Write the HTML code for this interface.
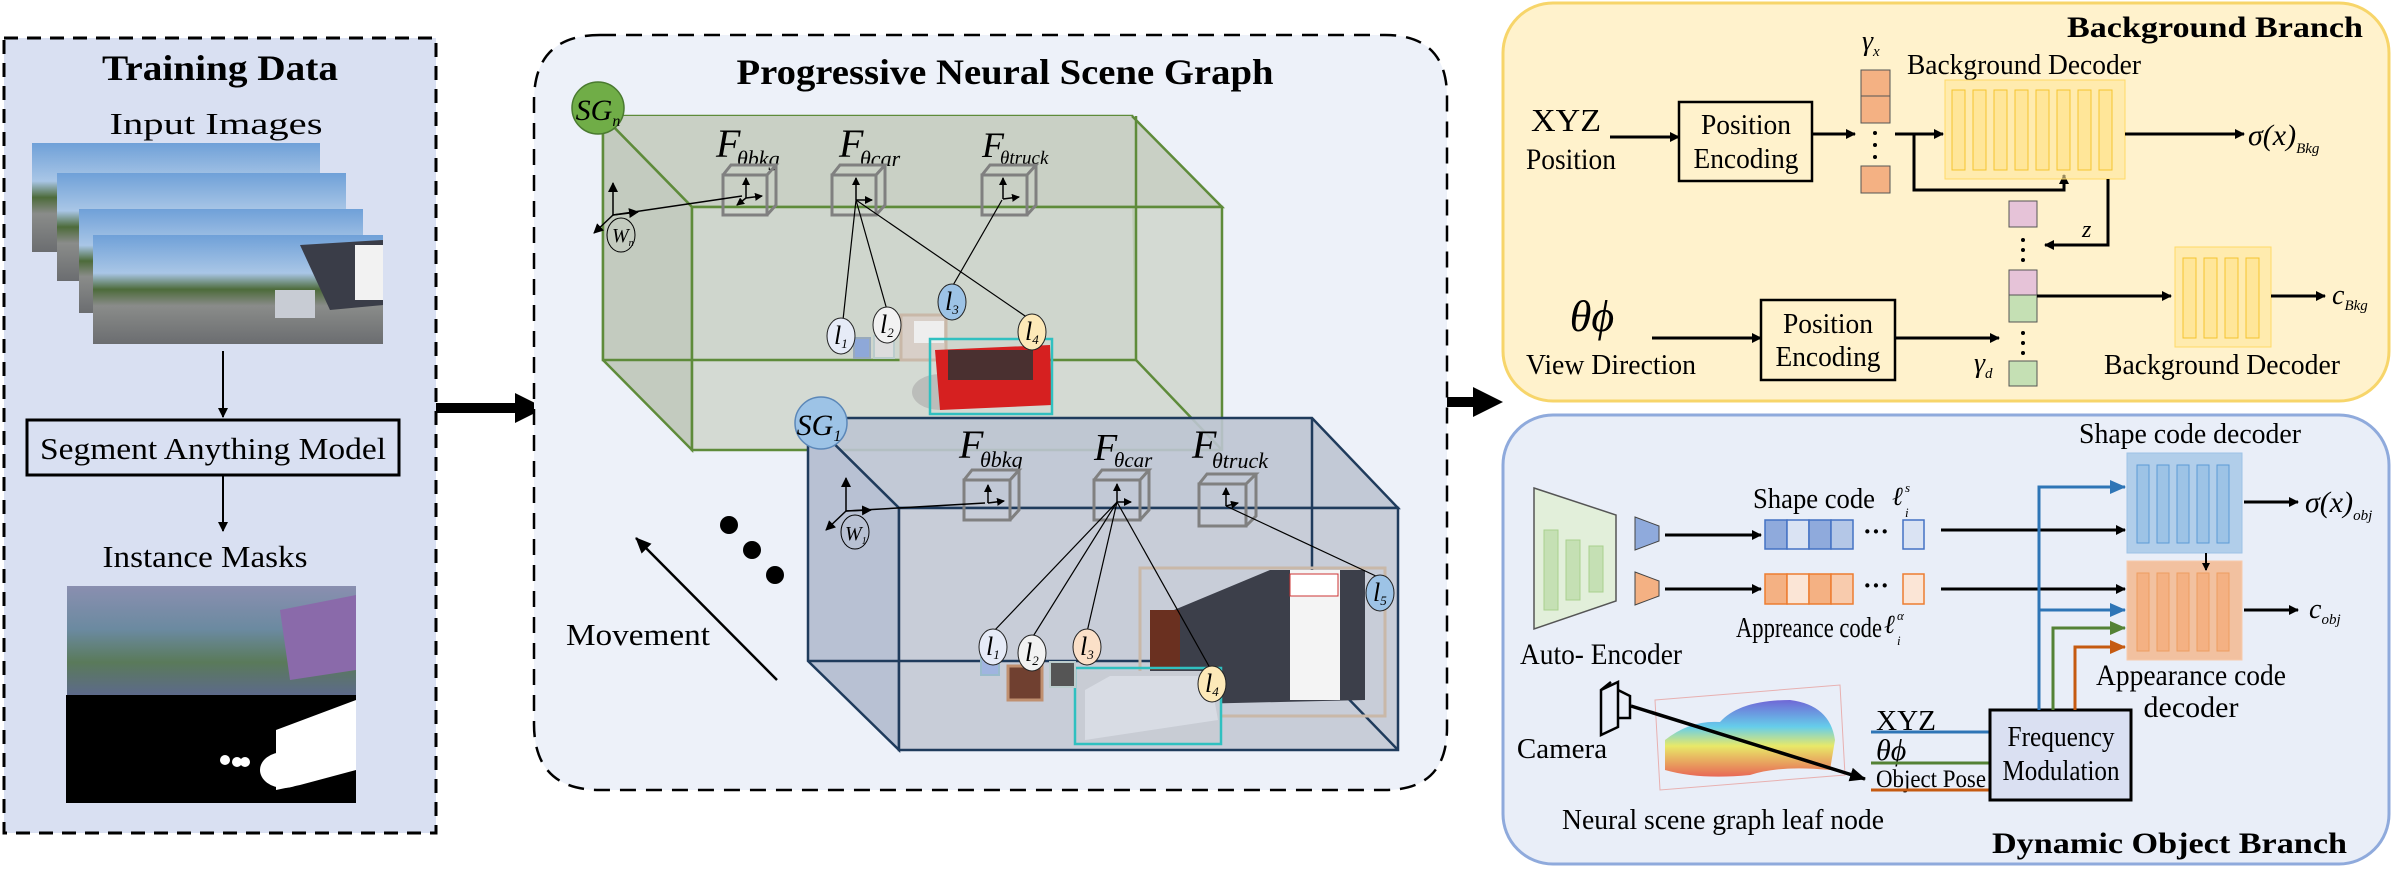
<!DOCTYPE html>
<html><head><meta charset="utf-8"><style>
html,body{margin:0;padding:0;background:#fff;}
svg{display:block;font-family:"Liberation Serif",serif;}
</style></head><body>
<svg width="2392" height="877" viewBox="0 0 2392 877" xmlns="http://www.w3.org/2000/svg">
<defs>
<marker id="ah" markerWidth="10" markerHeight="10" refX="9" refY="5" orient="auto" markerUnits="userSpaceOnUse"><path d="M0,0 L10,5 L0,10 z" fill="#000"/></marker>
<marker id="ahb" markerWidth="16" markerHeight="14" refX="15" refY="7" orient="auto" markerUnits="userSpaceOnUse"><path d="M0,0 L16,7 L0,14 z" fill="#000"/></marker>
<marker id="ahs" markerWidth="8" markerHeight="8" refX="7" refY="4" orient="auto" markerUnits="userSpaceOnUse"><path d="M0,0 L8,4 L0,8 z" fill="#000"/></marker>
<marker id="ahblue" markerWidth="16" markerHeight="14" refX="15" refY="7" orient="auto" markerUnits="userSpaceOnUse"><path d="M0,0 L16,7 L0,14 z" fill="#2e75b6"/></marker>
<marker id="ahgreen" markerWidth="16" markerHeight="14" refX="15" refY="7" orient="auto" markerUnits="userSpaceOnUse"><path d="M0,0 L16,7 L0,14 z" fill="#548235"/></marker>
<marker id="ahor" markerWidth="16" markerHeight="14" refX="15" refY="7" orient="auto" markerUnits="userSpaceOnUse"><path d="M0,0 L16,7 L0,14 z" fill="#c55a11"/></marker>
<linearGradient id="photo" x1="0" y1="0" x2="0" y2="1">
<stop offset="0" stop-color="#6fa0d8"/><stop offset="0.35" stop-color="#a9c6e6"/><stop offset="0.5" stop-color="#4d6b3a"/><stop offset="0.65" stop-color="#8a8c8a"/><stop offset="1" stop-color="#6b6d70"/></linearGradient>
<linearGradient id="seg" x1="0" y1="0" x2="0" y2="1">
<stop offset="0" stop-color="#8a8fb0"/><stop offset="0.4" stop-color="#6b8aa0"/><stop offset="0.7" stop-color="#5a7a5a"/><stop offset="1" stop-color="#5d6a8a"/></linearGradient>
<linearGradient id="pc" x1="0" y1="0" x2="0" y2="1">
<stop offset="0" stop-color="#5a4fd0"/><stop offset="0.35" stop-color="#4fc8e8"/><stop offset="0.6" stop-color="#e8e84f"/><stop offset="1" stop-color="#e8503a"/></linearGradient>
</defs>

<!-- Training data panel -->
<rect x="4" y="38" width="432" height="795" fill="#d9e0f2" stroke="#000" stroke-width="3" stroke-dasharray="14,9"/>
<text x="220" y="80" font-size="36" font-weight="bold" text-anchor="middle" textLength="236" lengthAdjust="spacingAndGlyphs">Training Data</text>
<text x="216" y="134" font-size="31" text-anchor="middle" textLength="213" lengthAdjust="spacingAndGlyphs">Input Images</text>
<rect x="32" y="143" width="288" height="109" fill="url(#photo)"/>
<rect x="57" y="173" width="289" height="108" fill="url(#photo)"/>
<rect x="79" y="209" width="284" height="104" fill="url(#photo)"/>
<rect x="93" y="235" width="290" height="109" fill="url(#photo)"/>
<path d="M300,245 L383,240 L383,305 L330,310 Z" fill="#3a3d48"/>
<rect x="355" y="245" width="28" height="55" fill="#f2f2f2"/>
<rect x="275" y="290" width="40" height="28" fill="#c8ccd4"/>
<line x1="223" y1="351" x2="223" y2="417" stroke="#000" stroke-width="2" marker-end="url(#ah)"/>
<rect x="27" y="420" width="372" height="55" fill="#d9e0f2" stroke="#000" stroke-width="3"/>
<text x="213" y="459" font-size="31" text-anchor="middle" textLength="346" lengthAdjust="spacingAndGlyphs">Segment Anything Model</text>
<line x1="223" y1="475" x2="223" y2="531" stroke="#000" stroke-width="2" marker-end="url(#ah)"/>
<text x="205" y="567" font-size="31" text-anchor="middle" textLength="205" lengthAdjust="spacingAndGlyphs">Instance Masks</text>
<rect x="67" y="586" width="289" height="109" fill="url(#seg)"/>
<path d="M280,610 L356,595 L356,670 L290,680 Z" fill="#8a6aaa"/>
<rect x="66" y="695" width="290" height="108" fill="#000"/>
<path d="M276,730 L356,700 L356,770 L300,785 L276,790 Z" fill="#fff"/>
<ellipse cx="284" cy="770" rx="24" ry="18" fill="#fff"/>
<circle cx="225" cy="760" r="5" fill="#fff"/><circle cx="237" cy="762" r="5" fill="#fff"/><circle cx="245" cy="762" r="5" fill="#fff"/>

<!-- big arrows -->
<line x1="436" y1="408" x2="520" y2="408" stroke="#000" stroke-width="10"/>
<path d="M515,393 L545,408 L515,423 Z" fill="#000"/>
<line x1="1395" y1="402" x2="1478" y2="402" stroke="#000" stroke-width="10"/>
<path d="M1473,387 L1503,402 L1473,417 Z" fill="#000"/>

<!-- middle panel -->
<path d="M600,35 L1385,35 Q1447,35 1447,97 L1447,728 Q1447,790 1385,790 L600,790 Q534,790 534,724 L534,101 Q534,35 600,35 Z" fill="#edf1f9" stroke="#000" stroke-width="2.5" stroke-dasharray="16,10"/>
<text x="1005" y="84" font-size="36" font-weight="bold" text-anchor="middle" textLength="537" lengthAdjust="spacingAndGlyphs">Progressive Neural Scene Graph</text>

<!-- green box -->
<g stroke="#5e8b3a" stroke-width="2.5" fill="none">
<path d="M603,116 L1132,116 L1136,360 L603,360 Z" fill="#cfd6cc"/>
<path d="M603,116 L692,207 L1222,207 L1132,116" fill="#c9d0c5"/>
<path d="M603,116 L603,360 L692,450 L692,207 Z" fill="#c3cbbf"/>
<rect x="692" y="207" width="530" height="243" fill="#cfd6cc" fill-opacity="0.85"/>
<line x1="603" y1="360" x2="1136" y2="360"/>
<line x1="1136" y1="116" x2="1136" y2="360"/>
<line x1="1136" y1="360" x2="1222" y2="450"/>
</g>

<!-- blue box -->
<g stroke="#1f3b5c" stroke-width="2.5">
<path d="M808,418 L1312,418 L1398,508 L899,508 Z" fill="#bcc4d2" fill-opacity="0.9"/>
<path d="M808,418 L899,508 L899,750 L808,661 Z" fill="#b8c1d3"/>
<rect x="899" y="508" width="499" height="242" fill="#c8cdd8"/>
<line x1="808" y1="661" x2="1312" y2="661" fill="none"/>
<line x1="1312" y1="418" x2="1312" y2="661" fill="none"/>
<line x1="1312" y1="661" x2="1398" y2="750" fill="none"/>
</g>

<!-- SG circles -->
<circle cx="598" cy="108" r="26" fill="#70ad47" stroke="#4a7a30" stroke-width="1.5"/>
<text x="598" y="120" font-size="30" font-style="italic" text-anchor="middle">SG<tspan font-size="16" dy="6">n</tspan></text>
<circle cx="821" cy="423" r="26" fill="#9dc3e6" stroke="#5b87b8" stroke-width="1.5"/>
<text x="819" y="435" font-size="30" font-style="italic" text-anchor="middle">SG<tspan font-size="16" dy="6">1</tspan></text>

<!-- F labels -->
<g font-style="italic">
<text x="716" y="157" font-size="40">F</text><text x="737" y="166" font-size="22">θbkg</text>
<text x="839" y="157" font-size="40">F</text><text x="860" y="166" font-size="22">θcar</text>
<text x="982" y="157" font-size="36">F</text><text x="1000" y="164" font-size="19">θtruck</text>
<text x="959" y="458" font-size="40">F</text><text x="980" y="467" font-size="22">θbkg</text>
<text x="1094" y="460" font-size="38">F</text><text x="1114" y="467" font-size="21">θcar</text>
<text x="1192" y="458" font-size="40">F</text><text x="1212" y="468" font-size="22">θtruck</text>
</g>

<!-- cubes -->
<g stroke="#808080" stroke-width="3" fill="none">
<path d="M723,175 L767,175 L767,215 L723,215 Z M723,175 L731,165 L776,165 L767,175 M776,165 L776,205 L767,215"/>
<path d="M832,175 L876,175 L876,215 L832,215 Z M832,175 L840,165 L885,165 L876,175 M885,165 L885,205 L876,215"/>
<path d="M982,175 L1027,175 L1027,215 L982,215 Z M982,175 L990,165 L1036,165 L1027,175 M1036,165 L1036,205 L1027,215"/>
<path d="M964,480 L1010,480 L1010,520 L964,520 Z M964,480 L972,470 L1019,470 L1010,480 M1019,470 L1019,510 L1010,520"/>
<path d="M1094,480 L1140,480 L1140,520 L1094,520 Z M1094,480 L1102,470 L1149,470 L1140,480 M1149,470 L1149,510 L1140,520"/>
<path d="M1199,484 L1246,484 L1246,526 L1199,526 Z M1199,484 L1207,474 L1256,474 L1246,484 M1256,474 L1256,516 L1246,526"/>
</g>
<g stroke="#000" stroke-width="1.5" fill="none">
<path d="M746,198 L746,178" marker-end="url(#ahs)"/><path d="M746,198 L762,196" marker-end="url(#ahs)"/><path d="M746,198 L737,205" marker-end="url(#ahs)"/>
<path d="M856,200 L856,178" marker-end="url(#ahs)"/><path d="M856,200 L872,200" marker-end="url(#ahs)"/>
<path d="M1003,199 L1003,178" marker-end="url(#ahs)"/><path d="M1003,199 L1019,197" marker-end="url(#ahs)"/>
<path d="M988,503 L988,485" marker-end="url(#ahs)"/><path d="M988,503 L1004,501" marker-end="url(#ahs)"/>
<path d="M1117,502 L1117,484" marker-end="url(#ahs)"/><path d="M1117,502 L1131,502" marker-end="url(#ahs)"/>
<path d="M1226,506 L1226,488" marker-end="url(#ahs)"/><path d="M1226,506 L1238,503" marker-end="url(#ahs)"/>
<path d="M613,215 L613,183" marker-end="url(#ah)"/><path d="M613,215 L638,212" marker-end="url(#ah)"/><path d="M613,215 L594,233" marker-end="url(#ah)"/>
<path d="M613,215 L742,196"/>
<path d="M846,511 L846,478" marker-end="url(#ah)"/><path d="M846,511 L871,510" marker-end="url(#ah)"/><path d="M846,511 L826,530" marker-end="url(#ah)"/>
<path d="M846,511 L985,503"/>
</g>
<ellipse cx="621" cy="235" rx="14" ry="17" fill="none" stroke="#000" stroke-width="1"/>
<text x="612" y="242" font-size="20" font-style="italic">W<tspan font-size="10" dy="4">n</tspan></text>
<ellipse cx="855" cy="532" rx="14" ry="17" fill="none" stroke="#000" stroke-width="1"/>
<text x="845" y="540" font-size="20" font-style="italic">W<tspan font-size="10" dy="4">1</tspan></text>

<!-- scene photos upper -->
<rect x="901" y="315" width="45" height="45" fill="#d8cfc8" stroke="#c9b8a8" stroke-width="3"/>
<rect x="914" y="321" width="30" height="22" fill="#eee"/>
<rect x="854" y="338" width="16" height="20" fill="#8ea8d8" stroke="#9ab" stroke-width="2"/>
<rect x="874" y="336" width="20" height="22" fill="#ddd" stroke="#bcc" stroke-width="2"/>
<ellipse cx="940" cy="392" rx="28" ry="18" fill="#aaa" opacity="0.6"/>
<path d="M935,350 L1050,345 L1052,405 L940,410 Z" fill="#d62020"/>
<rect x="948" y="350" width="85" height="30" fill="#4a3030"/>
<rect x="930" y="339" width="122" height="75" fill="none" stroke="#30c0c0" stroke-width="2.5"/>

<!-- lower photos -->
<rect x="1140" y="568" width="245" height="148" fill="none" stroke="#c9b8a8" stroke-width="3"/>
<path d="M1150,620 L1270,570 L1365,570 L1365,700 L1150,705 Z" fill="#3c3f4a"/>
<rect x="1290" y="570" width="50" height="130" fill="#f4f4f4"/>
<rect x="1290" y="574" width="48" height="22" fill="#fff" stroke="#c33" stroke-width="1"/>
<rect x="1150" y="610" width="30" height="60" fill="#6a3020"/>
<rect x="1075" y="671" width="145" height="73" fill="#c8ccd4"/>
<path d="M1085,690 L1110,676 L1210,676 L1218,720 L1085,740 Z" fill="#d8dce4"/>
<rect x="1075" y="668" width="146" height="76" fill="none" stroke="#30c0c0" stroke-width="2.5"/>
<rect x="981" y="658" width="18" height="17" fill="#a0b4e0" stroke="#9bc" stroke-width="2"/>
<rect x="1008" y="666" width="34" height="34" fill="#704030" stroke="#c09070" stroke-width="3"/>
<rect x="1050" y="662" width="25" height="25" fill="#555" stroke="#bcc" stroke-width="2"/>

<g stroke="#000" stroke-width="1.2">
<line x1="856" y1="200" x2="843" y2="320"/><line x1="856" y1="200" x2="887" y2="310"/><line x1="856" y1="200" x2="1028" y2="318"/><line x1="1002" y1="200" x2="952" y2="287"/>
<line x1="1117" y1="502" x2="993" y2="632"/><line x1="1117" y1="502" x2="1032" y2="638"/><line x1="1117" y1="502" x2="1087" y2="632"/><line x1="1117" y1="502" x2="1210" y2="668"/><line x1="1226" y1="506" x2="1378" y2="577"/>
</g>
<g stroke="#222" stroke-width="1">
<ellipse cx="841" cy="336" rx="14" ry="18" fill="#e6ebf7"/>
<ellipse cx="887" cy="325" rx="14" ry="18" fill="#f2f2f2"/>
<ellipse cx="952" cy="302" rx="14" ry="18" fill="#9dc3e6"/>
<ellipse cx="1032" cy="332" rx="14" ry="18" fill="#fde9b8"/>
<ellipse cx="993" cy="647" rx="14" ry="18" fill="#e6ebf7"/>
<ellipse cx="1032" cy="653" rx="14" ry="18" fill="#f2f2f2"/>
<ellipse cx="1087" cy="647" rx="14" ry="18" fill="#fbe0c8"/>
<ellipse cx="1212" cy="684" rx="14" ry="18" fill="#fde9b8"/>
<ellipse cx="1380" cy="593" rx="14" ry="18" fill="#9dc3e6"/>
</g>
<g font-style="italic" font-size="26">
<text x="834" y="344">l<tspan font-size="13" dy="4">1</tspan></text>
<text x="880" y="333">l<tspan font-size="13" dy="4">2</tspan></text>
<text x="945" y="310">l<tspan font-size="13" dy="4">3</tspan></text>
<text x="1025" y="340">l<tspan font-size="13" dy="4">4</tspan></text>
<text x="986" y="655">l<tspan font-size="13" dy="4">1</tspan></text>
<text x="1025" y="661">l<tspan font-size="13" dy="4">2</tspan></text>
<text x="1080" y="655">l<tspan font-size="13" dy="4">3</tspan></text>
<text x="1205" y="692">l<tspan font-size="13" dy="4">4</tspan></text>
<text x="1373" y="601">l<tspan font-size="13" dy="4">5</tspan></text>
</g>

<circle cx="729" cy="525" r="9" fill="#000"/><circle cx="752" cy="550" r="9" fill="#000"/><circle cx="775" cy="575" r="9" fill="#000"/>
<line x1="777" y1="680" x2="636" y2="538" stroke="#000" stroke-width="2.5" marker-end="url(#ahb)"/>
<text x="566" y="645" font-size="31" textLength="144" lengthAdjust="spacingAndGlyphs">Movement</text>

<!-- Background branch -->
<rect x="1503" y="3" width="886" height="398" rx="50" fill="#fff2cc" stroke="#f7d56a" stroke-width="3"/>
<text x="2363" y="37" font-size="30" font-weight="bold" text-anchor="end" textLength="296" lengthAdjust="spacingAndGlyphs">Background  Branch</text>
<text x="1862" y="50" font-size="28" font-style="italic">γ<tspan font-size="15" dy="6">x</tspan></text>
<text x="1907" y="74" font-size="29" textLength="234" lengthAdjust="spacingAndGlyphs">Background Decoder</text>
<text x="1566" y="131" font-size="32" text-anchor="middle" textLength="70" lengthAdjust="spacingAndGlyphs">XYZ</text>
<text x="1571" y="169" font-size="30" text-anchor="middle" textLength="90" lengthAdjust="spacingAndGlyphs">Position</text>
<line x1="1610" y1="137" x2="1679" y2="137" stroke="#000" stroke-width="3" marker-end="url(#ah)"/>
<rect x="1679" y="102" width="133" height="79" fill="#fff2cc" stroke="#000" stroke-width="2.5"/>
<text x="1746" y="134" font-size="28" text-anchor="middle" textLength="90" lengthAdjust="spacingAndGlyphs">Position</text>
<text x="1746" y="168" font-size="28" text-anchor="middle" textLength="105" lengthAdjust="spacingAndGlyphs">Encoding</text>
<line x1="1812" y1="134" x2="1855" y2="134" stroke="#000" stroke-width="3" marker-end="url(#ah)"/>
<rect x="1861" y="70" width="29" height="26" fill="#f4b183" stroke="#555"/>
<rect x="1861" y="96" width="29" height="27" fill="#f4b183" stroke="#555"/>
<rect x="1861" y="166" width="29" height="27" fill="#f4b183" stroke="#555"/>
<circle cx="1875" cy="133" r="2" fill="#000"/><circle cx="1875" cy="145" r="2" fill="#000"/><circle cx="1875" cy="157" r="2" fill="#000"/>
<path d="M1895,134 L1943,134" stroke="#000" stroke-width="3" marker-end="url(#ah)"/>
<path d="M1914,134 L1914,190 L2064,190 L2064,175" stroke="#000" stroke-width="3" fill="none" marker-end="url(#ah)"/>
<rect x="1945" y="80" width="180" height="99" fill="#ffe699" fill-opacity="0.6" stroke="#ffd966"/>
<g fill="#ffe699" stroke="#f4c430" stroke-width="1">
<rect x="1952" y="90" width="13" height="80"/><rect x="1973" y="90" width="13" height="80"/><rect x="1994" y="90" width="13" height="80"/><rect x="2015" y="90" width="13" height="80"/><rect x="2036" y="90" width="13" height="80"/><rect x="2057" y="90" width="13" height="80"/><rect x="2078" y="90" width="13" height="80"/><rect x="2099" y="90" width="13" height="80"/>
</g>
<line x1="2125" y1="134" x2="2244" y2="134" stroke="#000" stroke-width="3" marker-end="url(#ah)"/>
<text x="2248" y="145" font-size="30" font-style="italic">σ(x)<tspan font-size="15" dy="8">Bkg</tspan></text>
<path d="M2108,179 L2108,245 L2045,245" stroke="#000" stroke-width="3" fill="none" marker-end="url(#ah)"/>
<text x="2082" y="237" font-size="24" font-style="italic">z</text>
<rect x="2009" y="201" width="28" height="26" fill="#e6c3d8" stroke="#555"/>
<circle cx="2023" cy="240" r="2" fill="#000"/><circle cx="2023" cy="250" r="2" fill="#000"/><circle cx="2023" cy="260" r="2" fill="#000"/>
<rect x="2009" y="270" width="28" height="25" fill="#e6c3d8" stroke="#555"/>
<rect x="2009" y="295" width="28" height="27" fill="#c5e0b4" stroke="#555"/>
<circle cx="2023" cy="333" r="2" fill="#000"/><circle cx="2023" cy="343" r="2" fill="#000"/><circle cx="2023" cy="353" r="2" fill="#000"/>
<rect x="2009" y="361" width="28" height="25" fill="#c5e0b4" stroke="#555"/>
<line x1="2037" y1="296" x2="2171" y2="296" stroke="#000" stroke-width="3" marker-end="url(#ah)"/>
<rect x="2175" y="247" width="96" height="100" fill="#ffe699" fill-opacity="0.6" stroke="#ffd966"/>
<g fill="#ffe699" stroke="#f4c430"><rect x="2183" y="258" width="13" height="80"/><rect x="2204" y="258" width="13" height="80"/><rect x="2225" y="258" width="13" height="80"/><rect x="2246" y="258" width="13" height="80"/></g>
<line x1="2271" y1="296" x2="2325" y2="296" stroke="#000" stroke-width="3" marker-end="url(#ah)"/>
<text x="2332" y="304" font-size="28" font-style="italic">c<tspan font-size="15" dy="6">Bkg</tspan></text>
<text x="1592" y="331" font-size="44" font-style="italic" text-anchor="middle">θϕ</text>
<text x="1611" y="374" font-size="29" text-anchor="middle" textLength="170" lengthAdjust="spacingAndGlyphs">View Direction</text>
<line x1="1652" y1="338" x2="1761" y2="338" stroke="#000" stroke-width="3" marker-end="url(#ah)"/>
<rect x="1761" y="300" width="134" height="80" fill="#fff2cc" stroke="#000" stroke-width="2.5"/>
<text x="1828" y="333" font-size="28" text-anchor="middle" textLength="90" lengthAdjust="spacingAndGlyphs">Position</text>
<text x="1828" y="366" font-size="28" text-anchor="middle" textLength="105" lengthAdjust="spacingAndGlyphs">Encoding</text>
<line x1="1895" y1="338" x2="1999" y2="338" stroke="#000" stroke-width="3" marker-end="url(#ah)"/>
<text x="1974" y="372" font-size="28" font-style="italic">γ<tspan font-size="15" dy="6">d</tspan></text>
<text x="2104" y="374" font-size="29" textLength="236" lengthAdjust="spacingAndGlyphs">Background Decoder</text>

<!-- Dynamic object branch -->
<rect x="1503" y="415" width="886" height="449" rx="50" fill="#e9eef8" stroke="#8faadc" stroke-width="3"/>
<text x="2190" y="443" font-size="29" text-anchor="middle" textLength="222" lengthAdjust="spacingAndGlyphs">Shape code decoder</text>
<path d="M1534,488 L1616,515 L1616,601 L1534,629 Z" fill="#e2efda" stroke="#555" stroke-width="1.5"/>
<rect x="1544" y="530" width="14" height="80" fill="#c5e0b4" stroke="#a9d08e"/><rect x="1566" y="540" width="14" height="60" fill="#c5e0b4" stroke="#a9d08e"/><rect x="1589" y="546" width="14" height="46" fill="#c5e0b4" stroke="#a9d08e"/>
<path d="M1635,517 L1659,526 L1659,541 L1635,550 Z" fill="#8faadc" stroke="#444"/>
<path d="M1635,572 L1659,581 L1659,596 L1635,605 Z" fill="#f4b183" stroke="#444"/>
<line x1="1665" y1="535" x2="1761" y2="535" stroke="#000" stroke-width="3" marker-end="url(#ah)"/>
<line x1="1665" y1="589" x2="1761" y2="589" stroke="#000" stroke-width="3" marker-end="url(#ah)"/>
<text x="1753" y="508" font-size="29" textLength="122" lengthAdjust="spacingAndGlyphs">Shape code</text>
<text x="1892" y="505" font-size="26" font-style="italic">ℓ</text><text x="1905" y="492" font-size="13" font-style="italic">s</text><text x="1905" y="517" font-size="13" font-style="italic">i</text>
<g stroke="#4472c4" stroke-width="1.5"><rect x="1765" y="520" width="22" height="29" fill="#8faadc"/><rect x="1787" y="520" width="22" height="29" fill="#dae3f3"/><rect x="1809" y="520" width="22" height="29" fill="#8faadc"/><rect x="1831" y="520" width="22" height="29" fill="#b4c7e7"/><rect x="1903" y="520" width="21" height="29" fill="#dae3f3"/></g>
<g stroke="#ed7d31" stroke-width="1.5"><rect x="1765" y="574" width="22" height="30" fill="#f4b183"/><rect x="1787" y="574" width="22" height="30" fill="#fbe5d6"/><rect x="1809" y="574" width="22" height="30" fill="#f4b183"/><rect x="1831" y="574" width="22" height="30" fill="#f8cbad"/><rect x="1903" y="574" width="21" height="30" fill="#fbe5d6"/></g>
<text x="1876" y="540" font-size="26" font-weight="bold" text-anchor="middle">···</text>
<text x="1876" y="594" font-size="26" font-weight="bold" text-anchor="middle">···</text>
<text x="1736" y="637" font-size="29" textLength="146" lengthAdjust="spacingAndGlyphs">Appreance code</text>
<text x="1884" y="633" font-size="26" font-style="italic">ℓ</text><text x="1897" y="620" font-size="13" font-style="italic">α</text><text x="1897" y="645" font-size="13" font-style="italic">i</text>
<line x1="1941" y1="530" x2="2125" y2="530" stroke="#000" stroke-width="3" marker-end="url(#ah)"/>
<line x1="1941" y1="589" x2="2125" y2="589" stroke="#000" stroke-width="3" marker-end="url(#ah)"/>
<rect x="2127" y="453" width="115" height="100" fill="#9dc3e6" fill-opacity="0.75" stroke="#9dc3e6"/>
<g fill="#9dc3e6" stroke="#5b9bd5"><rect x="2137" y="465" width="12" height="78"/><rect x="2157" y="465" width="12" height="78"/><rect x="2177" y="465" width="12" height="78"/><rect x="2197" y="465" width="12" height="78"/><rect x="2217" y="465" width="12" height="78"/></g>
<rect x="2127" y="561" width="115" height="99" fill="#f4b183" fill-opacity="0.75" stroke="#f8cbad"/>
<g fill="#f4b183" stroke="#ed9d60"><rect x="2137" y="573" width="12" height="78"/><rect x="2157" y="573" width="12" height="78"/><rect x="2177" y="573" width="12" height="78"/><rect x="2197" y="573" width="12" height="78"/><rect x="2217" y="573" width="12" height="78"/></g>
<line x1="2206" y1="553" x2="2206" y2="570" stroke="#000" stroke-width="2" marker-end="url(#ahs)"/>
<line x1="2244" y1="502" x2="2298" y2="502" stroke="#000" stroke-width="3" marker-end="url(#ah)"/>
<text x="2305" y="512" font-size="30" font-style="italic">σ(x)<tspan font-size="15" dy="8">obj</tspan></text>
<line x1="2244" y1="610" x2="2298" y2="610" stroke="#000" stroke-width="3" marker-end="url(#ah)"/>
<text x="2309" y="618" font-size="28" font-style="italic">c<tspan font-size="15" dy="6">obj</tspan></text>
<text x="1601" y="664" font-size="30" text-anchor="middle" textLength="162" lengthAdjust="spacingAndGlyphs">Auto- Encoder</text>
<text x="2191" y="685" font-size="30" text-anchor="middle" textLength="190" lengthAdjust="spacingAndGlyphs">Appearance code</text>
<text x="2191" y="717" font-size="30" text-anchor="middle">decoder</text>
<path d="M1601,690 L1618,682 L1618,727 L1601,735 Z M1601,690 L1611,682 M1618,690 L1630,696 L1630,718 L1618,718" fill="none" stroke="#000" stroke-width="2.5"/>
<text x="1562" y="758" font-size="29" text-anchor="middle">Camera</text>
<path d="M1655,700 L1840,685 L1845,775 L1660,790 Z" fill="none" stroke="#e8b0b0" stroke-width="1"/>
<path d="M1665,740 Q1690,720 1720,722 Q1740,700 1790,700 Q1830,705 1835,740 L1830,770 Q1780,765 1750,775 Q1700,780 1665,770 Z" fill="url(#pc)" opacity="0.85"/>
<line x1="1631" y1="706" x2="1865" y2="779" stroke="#000" stroke-width="3.5" marker-end="url(#ahb)"/>
<text x="1876" y="730" font-size="28" textLength="60" lengthAdjust="spacingAndGlyphs">XYZ</text>
<line x1="1871" y1="732" x2="1990" y2="732" stroke="#2e75b6" stroke-width="3"/>
<text x="1876" y="760" font-size="30" font-style="italic">θϕ</text>
<line x1="1871" y1="763" x2="1990" y2="763" stroke="#548235" stroke-width="3"/>
<text x="1876" y="787" font-size="25" textLength="110" lengthAdjust="spacingAndGlyphs">Object Pose</text>
<line x1="1871" y1="790" x2="1990" y2="790" stroke="#c55a11" stroke-width="3"/>
<rect x="1990" y="710" width="141" height="90" fill="#dae0f2" stroke="#000" stroke-width="3"/>
<text x="2061" y="746" font-size="28" text-anchor="middle" textLength="107" lengthAdjust="spacingAndGlyphs">Frequency</text>
<text x="2061" y="780" font-size="28" text-anchor="middle" textLength="117" lengthAdjust="spacingAndGlyphs">Modulation</text>
<path d="M2039,710 L2039,487 L2125,487" stroke="#2e75b6" stroke-width="3" fill="none" marker-end="url(#ahblue)"/>
<path d="M2039,610 L2125,610" stroke="#2e75b6" stroke-width="3" fill="none" marker-end="url(#ahblue)"/>
<path d="M2053,710 L2053,628 L2125,628" stroke="#548235" stroke-width="3" fill="none" marker-end="url(#ahgreen)"/>
<path d="M2075,710 L2075,647 L2125,647" stroke="#c55a11" stroke-width="3" fill="none" marker-end="url(#ahor)"/>
<text x="1723" y="829" font-size="29" text-anchor="middle" textLength="322" lengthAdjust="spacingAndGlyphs">Neural scene graph leaf node</text>
<text x="2347" y="853" font-size="30" font-weight="bold" text-anchor="end" textLength="355" lengthAdjust="spacingAndGlyphs">Dynamic Object  Branch</text>
</svg>
</body></html>
